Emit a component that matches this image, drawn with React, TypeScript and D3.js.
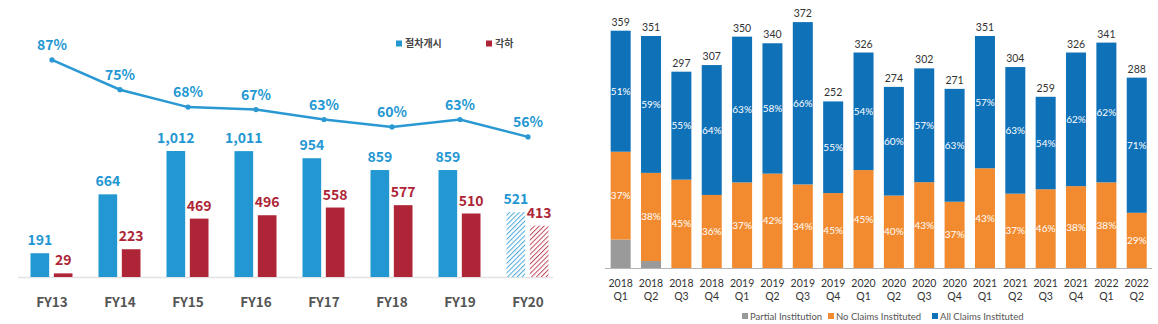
import React from 'react';
import * as d3 from 'd3';

// ---------- Left chart data ----------
const fyCategories = ['FY13', 'FY14', 'FY15', 'FY16', 'FY17', 'FY18', 'FY19', 'FY20'];
const commenced = [191, 664, 1012, 1011, 954, 859, 859, 521];
const dismissed = [29, 223, 469, 496, 558, 577, 510, 413];
const dismissRate = [87, 75, 68, 67, 63, 60, 63, 56];
const hatchedCategories = ['FY20'];
const leftSeries = ['절차개시', '각하'];

// ---------- Right chart data ----------
const qYears = ['2018', '2018', '2018', '2018', '2019', '2019', '2019', '2019', '2020', '2020', '2020', '2020', '2021', '2021', '2021', '2021', '2022', '2022'];
const qQuarters = ['Q1', 'Q2', 'Q3', 'Q4', 'Q1', 'Q2', 'Q3', 'Q4', 'Q1', 'Q2', 'Q3', 'Q4', 'Q1', 'Q2', 'Q3', 'Q4', 'Q1', 'Q2'];
const totals = [359, 351, 297, 307, 350, 340, 372, 252, 326, 274, 302, 271, 351, 304, 259, 326, 341, 288];
const partialPct = [12, 3, 0, 0, 0, 0, 0, 0, 0, 0, 0, 0, 0, 0, 0, 0, 0, 0];
const noClaimsPct = [37, 38, 45, 36, 37, 42, 34, 45, 45, 40, 43, 37, 43, 37, 46, 38, 38, 29];
const allClaimsPct = [51, 59, 55, 64, 63, 58, 66, 55, 54, 60, 57, 63, 57, 63, 54, 62, 62, 71];
const rightSeries = ['Partial Institution', 'No Claims Instituted', 'All Claims Instituted'];

const BLUE_L = '#2397d2';
const RED_L = '#ad2536';
const KR = '"Noto Sans CJK KR", "Noto Sans", sans-serif';
const RF = 'Lato, "Open Sans", sans-serif';
const R_COLORS = ['#9a9a9a', '#f28b30', '#0f71b8'];

function LeftChart() {
  const x0 = d3.scaleBand<string>().domain(fyCategories).range([17.5, 561.5]).padding(0);
  const x1 = d3.scaleBand<string>().domain(['a', 'b']).range([13, 55]).paddingInner(0.2);
  const y = d3.scaleLinear().domain([0, 2000]).range([277, 28]);
  const yp = d3.scaleLinear().domain([0, 100]).range([276, 27.6]);
  const cx = (c: string) => (x0(c) as number) + x0.bandwidth() / 2 + 0.5;
  const linePts: [number, number][] = fyCategories.map((c, i) => [cx(c), yp(dismissRate[i])]);
  const lineGen = d3.line();
  const bw = x1.bandwidth();
  return (
    <g fontFamily={KR} fontWeight="bold">
      <defs>
        <pattern id="hatchBlue" width="3.4" height="3.4" patternUnits="userSpaceOnUse" patternTransform="rotate(45)">
          <rect width="3.4" height="3.4" fill="#fff" />
          <line x1="0" y1="0" x2="0" y2="3.4" stroke="#4aa8db" strokeWidth="2" />
        </pattern>
        <pattern id="hatchRed" width="3.4" height="3.4" patternUnits="userSpaceOnUse" patternTransform="rotate(45)">
          <rect width="3.4" height="3.4" fill="#fff" />
          <line x1="0" y1="0" x2="0" y2="3.4" stroke="#c04a5c" strokeWidth="2" />
        </pattern>
      </defs>
      <line x1={18} x2={553} y1={277.5} y2={277.5} stroke="#e2e2e2" strokeWidth={1.5} />
      {fyCategories.map((c, i) => {
        const hatched = hatchedCategories.includes(c);
        const bx = (x0(c) as number) + (x1('a') as number);
        const rx = (x0(c) as number) + (x1('b') as number);
        return (
          <g key={c}>
            <rect x={bx} y={y(commenced[i])} width={bw} height={y(0) - y(commenced[i])} fill={hatched ? 'url(#hatchBlue)' : BLUE_L} />
            <rect x={rx} y={y(dismissed[i])} width={bw} height={y(0) - y(dismissed[i])} fill={hatched ? 'url(#hatchRed)' : RED_L} />
            <text x={bx + bw / 2} y={y(commenced[i]) - 8} textAnchor="middle" fontSize={14} fill={BLUE_L}>{d3.format(',')(commenced[i])}</text>
            <text x={rx + bw / 2} y={y(dismissed[i]) - 8} textAnchor="middle" fontSize={14} fill={RED_L}>{d3.format(',')(dismissed[i])}</text>
            <text x={cx(c)} y={307} textAnchor="middle" fontSize={13.5} fill="#555">{c}</text>
          </g>
        );
      })}
      <path d={lineGen(linePts) || ''} fill="none" stroke="#2a98d2" strokeWidth={2.5} />
      {linePts.map((p, i) => (
        <g key={i}>
          <circle cx={p[0]} cy={p[1]} r={2.6} fill="#2a98d2" />
          <text x={p[0]} y={p[1] - 10} textAnchor="middle" fontSize={14} fill={BLUE_L}>{dismissRate[i]}%</text>
        </g>
      ))}
      {leftSeries.map((s, i) => {
        const lx = i === 0 ? 396 : 486;
        return (
          <g key={s}>
            <rect x={lx} y={40.5} width={6} height={6} fill={i === 0 ? BLUE_L : RED_L} />
            <text x={lx + 9} y={47} fontSize={10} fill="#444">{s}</text>
          </g>
        );
      })}
    </g>
  );
}

function RightChart() {
  const idx = totals.map((_, i) => String(i));
  const x = d3.scaleBand<string>().domain(idx).range([605.5, 1151.9]).paddingInner(0.341).paddingOuter(0.17);
  const y = d3.scaleLinear().domain([0, 400]).range([268, 3.6]);
  const rows = totals.map((t, i) => {
    const sum = partialPct[i] + noClaimsPct[i] + allClaimsPct[i];
    return { p: (partialPct[i] / sum) * t, n: (noClaimsPct[i] / sum) * t, a: (allClaimsPct[i] / sum) * t };
  });
  const stack = d3.stack<{ p: number; n: number; a: number }>().keys(['p', 'n', 'a'])(rows);
  const pcts = [partialPct, noClaimsPct, allClaimsPct];
  const bw = x.bandwidth();
  const legendX = [742, 828, 932];
  return (
    <g fontFamily={RF}>
      {stack.map((layer, k) => (
        <g key={k}>
          {layer.map((d, i) => {
            const h = y(d[0]) - y(d[1]);
            if (h <= 0) return null;
            return <rect key={i} x={x(String(i))} y={y(d[1])} width={bw} height={h} fill={R_COLORS[k]} />;
          })}
        </g>
      ))}
      {stack.map((layer, k) =>
        k === 0 ? null : (
          <g key={'l' + k}>
            {layer.map((d, i) => (
              <text key={i} x={(x(String(i)) as number) + bw / 2} y={(y(d[0]) + y(d[1])) / 2} dy="0.35em" textAnchor="middle" fontSize={10} fill="#fff">
                {pcts[k][i]}%
              </text>
            ))}
          </g>
        )
      )}
      <line x1={605} x2={1152} y1={268.5} y2={268.5} stroke="#b5b5b5" strokeWidth={1} />
      {totals.map((t, i) => (
        <g key={i}>
          <text x={(x(String(i)) as number) + bw / 2} y={y(t) - 5} textAnchor="middle" fontSize={10.5} fill="#333">{t}</text>
          <text x={(x(String(i)) as number) + bw / 2} y={287} textAnchor="middle" fontSize={10.5} fill="#333">{qYears[i]}</text>
          <text x={(x(String(i)) as number) + bw / 2} y={299.5} textAnchor="middle" fontSize={10.5} fill="#333">{qQuarters[i]}</text>
        </g>
      ))}
      {rightSeries.map((s, i) => (
        <g key={s}>
          <rect x={legendX[i]} y={313} width={6} height={6} fill={R_COLORS[i]} />
          <text x={legendX[i] + 8} y={319.5} fontSize={9.5} fill="#555">{s}</text>
        </g>
      ))}
    </g>
  );
}

export default function App() {
  return (
    <svg width={1158} height={324} style={{ position: 'absolute', left: 0, top: 0, background: '#fff' }}>
      <rect width={1158} height={324} fill="#fff" />
      <LeftChart />
      <RightChart />
    </svg>
  );
}
